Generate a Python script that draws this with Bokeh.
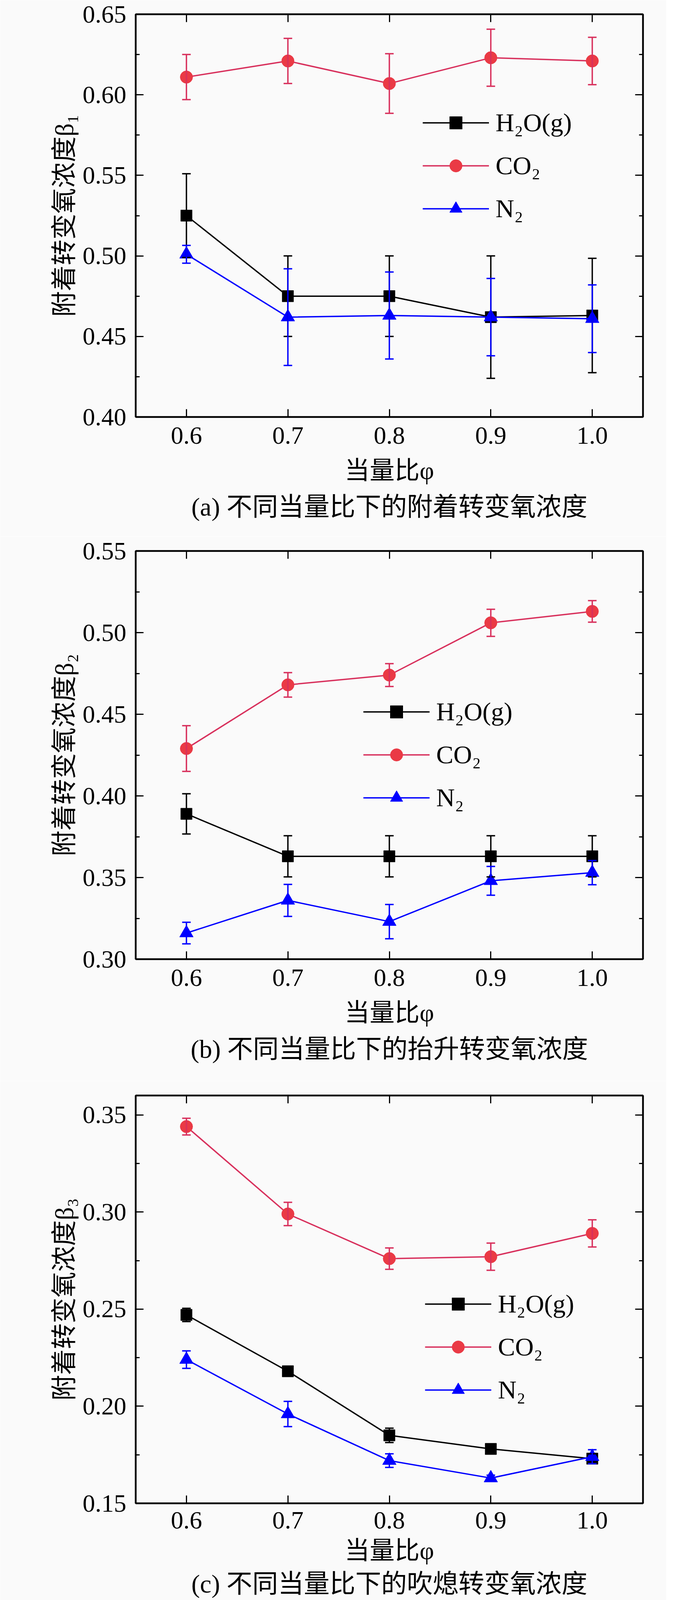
from bokeh.plotting import figure
from bokeh.models import (Range1d, FixedTicker, NumeralTickFormatter, LinearAxis,
                          CustomJSTickFormatter, Whisker, TeeHead, ColumnDataSource,
                          Legend, LegendItem, Title)
from bokeh.layouts import column
from bokeh.embed import file_html
from bokeh.resources import INLINE

# ---------------- data ----------------
phi = [0.6, 0.7, 0.8, 0.9, 1.0]
x_ticks = [0.6, 0.7, 0.8, 0.9, 1.0]
series_names = ["H₂O(g)", "CO₂", "N₂"]

# (a) attachment transition oxygen concentration beta1
a_h2o = [0.525, 0.475, 0.475, 0.462, 0.463]
a_h2o_err = [0.026, 0.025, 0.025, 0.038, 0.0355]
a_co2 = [0.611, 0.621, 0.607, 0.623, 0.621]
a_co2_err = [0.014, 0.014, 0.0185, 0.0177, 0.0147]
a_n2 = [0.501, 0.462, 0.463, 0.462, 0.461]
a_n2_err = [0.0055, 0.030, 0.027, 0.024, 0.021]
a_yticks = [0.40, 0.45, 0.50, 0.55, 0.60, 0.65]
a_yminor = [0.425, 0.475, 0.525, 0.575, 0.625]

# (b) lift-off transition oxygen concentration beta2
b_h2o = [0.389, 0.363, 0.363, 0.363, 0.363]
b_h2o_err = [0.0123, 0.0126, 0.0126, 0.0126, 0.0126]
b_co2 = [0.429, 0.468, 0.474, 0.506, 0.513]
b_co2_err = [0.014, 0.0075, 0.007, 0.0083, 0.0066]
b_n2 = [0.316, 0.336, 0.323, 0.348, 0.353]
b_n2_err = [0.0066, 0.0098, 0.0105, 0.0088, 0.0074]
b_yticks = [0.30, 0.35, 0.40, 0.45, 0.50, 0.55]
b_yminor = [0.325, 0.375, 0.425, 0.475, 0.525]

# (c) blow-off transition oxygen concentration beta3
c_h2o = [0.247, 0.218, 0.185, 0.178, 0.173]
c_h2o_err = [0.0034, 0.0023, 0.0037, 0.0015, 0.0025]
c_co2 = [0.344, 0.299, 0.276, 0.277, 0.289]
c_co2_err = [0.0043, 0.006, 0.0055, 0.007, 0.007]
c_n2 = [0.224, 0.196, 0.172, 0.163, 0.174]
c_n2_err = [0.0045, 0.0065, 0.0035, 0.0015, 0.0036]
c_yticks = [0.15, 0.20, 0.25, 0.30, 0.35]
c_yminor = [0.175, 0.225, 0.275, 0.325]

captions = ["(a) 不同当量比下的附着转变氧浓度",
            "(b) 不同当量比下的抬升转变氧浓度",
            "(c) 不同当量比下的吹熄转变氧浓度"]
ylabels = ["附着转变氧浓度β₁", "附着转变氧浓度β₂", "附着转变氧浓度β₃"]
xlabel = "当量比φ"

# ---------------- style ----------------
SERIF = "Liberation Serif"
MIXED = "Liberation Serif, Noto Sans CJK SC"
BG = "#FAFAFA"
C_H2O = "#000000"
C_CO2_LINE = "#D8305C"
C_CO2_FILL = "#EA3A45"
C_N2 = "#0000FF"

FRAME_LEFT = 355      # page x of frame left edge
FRAME_W = 1299
PAGE_MARGIN = 8


def style_axis(ax, ticker, fmt, labels=True):
    ax.ticker = ticker
    ax.axis_line_color = "black"
    ax.axis_line_width = 4
    ax.major_tick_in = 20
    ax.major_tick_out = 0
    ax.minor_tick_in = 10
    ax.minor_tick_out = 0
    ax.major_tick_line_width = 3
    ax.minor_tick_line_width = 3
    ax.major_tick_line_color = "black"
    ax.minor_tick_line_color = "black"
    if labels:
        ax.formatter = NumeralTickFormatter(format=fmt)
        ax.major_label_text_font = SERIF
        ax.major_label_text_font_size = "64px"
        ax.major_label_text_color = "black"
    else:
        ax.formatter = CustomJSTickFormatter(code="return ''")
        ax.major_label_text_font_size = "1px"
        ax.major_label_standoff = 0


def make_panel(idx, yr, yticks, yminor, h2o, h2o_e, co2, co2_e, n2, n2_e,
               frame_h, border_top, border_bottom, legend_xy, cap_standoff,
               tick_standoff=26, xlabel_standoff=30):
    x0, x1 = 0.55, 1.05
    y0, y1 = yr
    p = figure(frame_width=FRAME_W, frame_height=frame_h,
               x_range=Range1d(x0, x1), y_range=Range1d(y0, y1),
               output_backend="svg", toolbar_location=None,
               min_border_left=FRAME_LEFT - PAGE_MARGIN, min_border_right=60,
               min_border_top=border_top, min_border_bottom=border_bottom,
               background_fill_color=BG, border_fill_color=BG)
    p.xgrid.visible = False
    p.ygrid.visible = False
    p.outline_line_color = "black"
    p.outline_line_width = 4

    xt = FixedTicker(ticks=x_ticks, minor_ticks=[])
    yt = FixedTicker(ticks=yticks, minor_ticks=yminor)
    xa = p.xaxis[0]
    style_axis(xa, xt, "0.0")
    xa.major_label_standoff = tick_standoff
    xa.axis_label = xlabel
    xa.axis_label_text_font = MIXED
    xa.axis_label_text_font_size = "64px"
    xa.axis_label_text_font_style = "normal"
    xa.axis_label_text_color = "black"
    xa.axis_label_standoff = xlabel_standoff

    ya = p.yaxis[0]
    style_axis(ya, yt, "0.00")
    ya.major_label_standoff = 24
    ya.axis_label = ylabels[idx]
    ya.axis_label_text_font = MIXED
    ya.axis_label_text_font_size = "66px"
    ya.axis_label_text_font_style = "normal"
    ya.axis_label_text_color = "black"
    ya.axis_label_standoff = 8

    top_ax = LinearAxis()
    style_axis(top_ax, FixedTicker(ticks=x_ticks, minor_ticks=[]), None, labels=False)
    p.add_layout(top_ax, "above")
    right_ax = LinearAxis()
    style_axis(right_ax, FixedTicker(ticks=yticks, minor_ticks=yminor), None, labels=False)
    p.add_layout(right_ax, "right")

    series = [
        (h2o, h2o_e, C_H2O, C_H2O, C_H2O, "square", 29),
        (co2, co2_e, C_CO2_LINE, C_CO2_FILL, C_CO2_LINE, "circle", 32),
        (n2, n2_e, C_N2, C_N2, C_N2, "triangle", 35),
    ]
    items = []
    for name, (vals, errs, lc, fc, ec, mk, sz) in zip(series_names, series):
        src = ColumnDataSource(dict(
            x=phi, y=vals,
            upper=[v + e for v, e in zip(vals, errs)],
            lower=[v - e for v, e in zip(vals, errs)]))
        w = Whisker(source=src, base="x", upper="upper", lower="lower",
                    line_color=ec, line_width=3.5, level="glyph",
                    upper_head=TeeHead(size=22, line_color=ec, line_width=3.5),
                    lower_head=TeeHead(size=22, line_color=ec, line_width=3.5))
        p.add_layout(w)
        ln = p.line("x", "y", source=src, line_color=lc, line_width=3.5)
        sc = p.scatter("x", "y", source=src, marker=mk, size=sz,
                       fill_color=fc, line_color=fc, line_width=1)
        items.append(LegendItem(label=name, renderers=[ln, sc]))

    legend = Legend(items=items, location=legend_xy, orientation="vertical",
                    glyph_width=170, glyph_height=80, label_height=80,
                    label_standoff=17, spacing=30, padding=0, margin=0,
                    border_line_color=None, background_fill_alpha=0,
                    label_text_font=SERIF, label_text_font_size="66px",
                    label_text_color="black")
    p.add_layout(legend)

    cap = Title(text=captions[idx], align="center", text_font=MIXED,
                text_font_size="66px", text_font_style="normal",
                text_color="black", standoff=cap_standoff)
    p.add_layout(cap, "below")
    return p


# frame tops (page y): a 44, b 1418, c 2812; page content ends at 4147
pa = make_panel(0, (0.40, 0.65), a_yticks, a_yminor, a_h2o, a_h2o_err, a_co2, a_co2_err,
                a_n2, a_n2_err, frame_h=1031, border_top=36, border_bottom=306,
                legend_xy=(735, 493), cap_standoff=33)
pb = make_panel(1, (0.30, 0.55), b_yticks, b_yminor, b_h2o, b_h2o_err, b_co2, b_co2_err,
                b_n2, b_n2_err, frame_h=1045, border_top=37, border_bottom=312,
                legend_xy=(583, 373), cap_standoff=33)
pc = make_panel(2, (0.15, 0.36), c_yticks, c_yminor, c_h2o, c_h2o_err, c_co2, c_co2_err,
                c_n2, c_n2_err, frame_h=1044, border_top=37, border_bottom=291,
                legend_xy=(741, 250), cap_standoff=16,
                tick_standoff=22, xlabel_standoff=18)

layout = column(pa, pb, pc, spacing=0)
open("out.html", "w").write(file_html(layout, INLINE, title="当量比与转变氧浓度"))
